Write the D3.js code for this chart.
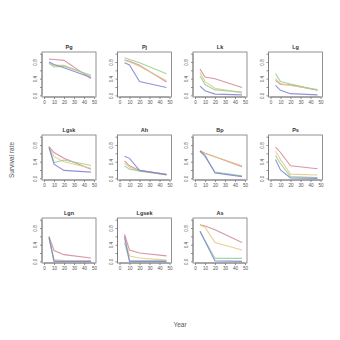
<!DOCTYPE html>
<html><head><meta charset="utf-8">
<script src="https://cdn.jsdelivr.net/npm/d3@7"></script>
<style>body{margin:0;background:#fff}svg{display:block}</style>
</head><body>
<svg id="c" width="340" height="340"></svg>
<script>
const years = [5, 10, 20, 47];
const panels = ["Pg","Pj","Lk","Lg","Lgsk","Ah","Bp","Ps","Lgn","Lgsek","As"];
const xTicks = [0, 10, 20, 30, 40, 50];
const yTicks = [0, 0.2, 0.4, 0.6, 0.8, 1.0];
const yLabels = [0, 0.4, 0.8];
// one row per panel, values at the years above
const redVals = [
  [0.87,0.86,0.84,0.40],[0.85,0.82,0.72,0.32],[0.63,0.44,0.40,0.19],[0.36,0.26,0.25,0.12],
  [0.76,0.62,0.48,0.22],[0.42,0.30,0.19,0.09],[0.66,0.60,0.52,0.28],[0.75,0.62,0.30,0.23],
  [0.60,0.26,0.16,0.08],[0.65,0.27,0.20,0.13],[0.88,0.85,0.76,0.45]];
const yellowVals = [
  [0.76,0.72,0.72,0.46],[0.84,0.80,0.70,0.35],[0.55,0.33,0.17,0.06],[0.40,0.28,0.24,0.14],
  [0.75,0.52,0.40,0.24],[0.36,0.27,0.17,0.08],[0.64,0.60,0.52,0.30],[0.65,0.45,0.10,0.08],
  [0.55,0.04,0.02,0.01],[0.55,0.13,0.08,0.03],[0.87,0.82,0.45,0.27]];
const greenVals = [
  [0.78,0.68,0.70,0.48],[0.90,0.86,0.78,0.52],[0.47,0.26,0.13,0.08],[0.52,0.33,0.27,0.13],
  [0.76,0.38,0.44,0.31],[0.30,0.22,0.18,0.10],[0.64,0.52,0.15,0.06],[0.55,0.35,0.04,0.02],
  [0.57,0.01,0.00,0.00],[0.45,0.02,0.01,0.01],[0.72,0.50,0.07,0.07]];
const blueVals = [
  [0.80,0.74,0.66,0.43],[0.78,0.73,0.33,0.19],[0.22,0.11,0.03,0.01],[0.24,0.12,0.04,0.01],
  [0.74,0.34,0.19,0.15],[0.53,0.48,0.19,0.09],[0.66,0.55,0.13,0.04],[0.45,0.20,0.01,0.00],
  [0.58,0.00,0.00,0.00],[0.60,0.00,0.00,0.00],[0.72,0.48,0.01,0.00]];
const seriesList = [redVals, yellowVals, greenVals, blueVals];
const seriesColors = ["#cf8595","#e6c585","#92cf92","#7f7fd2"];

const svg = d3.select("#c");
const font = "Liberation Sans, Arial, sans-serif";
const boxW = 54, boxH = 45, colStep = 75.5, rowStep = 83, left0 = 42, top0 = 52;

panels.forEach((name, i) => {
  const col = i % 4, row = Math.floor(i / 4);
  const L = left0 + col * colStep, T = top0 + row * rowStep;
  const x = d3.scaleLinear().domain([-2, 52]).range([L, L + boxW]);
  const y = d3.scaleLinear().domain([-0.04, 1.04]).range([T + boxH, T]);
  const g = svg.append("g");
  g.append("rect").attr("x", L).attr("y", T).attr("width", boxW).attr("height", boxH)
    .attr("fill", "none").attr("stroke", "#777").attr("stroke-width", 0.8);
  const xa = g.append("g").attr("transform", `translate(0,${T + boxH})`)
    .call(d3.axisBottom(x).tickValues(xTicks).tickSize(2).tickPadding(1.5).tickFormat(d3.format("d")));
  xa.select(".domain").attr("stroke", "#777").attr("stroke-width", 0.8)
    .attr("d", `M${x(0)},0H${x(50)}`);
  xa.selectAll(".tick line").attr("stroke", "#777").attr("stroke-width", 0.8);
  xa.selectAll("text").attr("font-size", 4.6).attr("font-family", font).attr("fill", "#555");
  const ya = g.append("g").attr("transform", `translate(${L},0)`)
    .call(d3.axisLeft(y).tickValues(yTicks).tickSize(2).tickFormat(d => yLabels.some(v => Math.abs(v - d) < 1e-9) ? d3.format(".1f")(d) : ""));
  ya.select(".domain").attr("stroke", "#777").attr("stroke-width", 0.8)
    .attr("d", `M0,${y(0)}V${y(1)}`);
  ya.selectAll(".tick line").attr("stroke", "#777").attr("stroke-width", 0.8);
  ya.selectAll("text").attr("font-size", 4.6).attr("font-family", font).attr("fill", "#555")
    .attr("text-anchor", "middle").attr("x", 0).attr("dy", 0)
    .attr("transform", "translate(-5,0) rotate(-90)");
  g.append("text").attr("x", L + boxW / 2).attr("y", T - 3.5).attr("text-anchor", "middle")
    .attr("font-family", font).attr("font-weight", "bold").attr("font-size", 5.5).attr("fill", "#333")
    .text(name);
  const line = d3.line().x((d, k) => x(years[k])).y(d => y(d));
  seriesList.forEach((s, k) => {
    g.append("path").attr("d", line(s[i])).attr("fill", "none")
      .attr("stroke", seriesColors[k]).attr("stroke-width", 1.1).attr("stroke-opacity", 0.85);
  });
});

svg.append("text").attr("transform", "translate(14,160) rotate(-90)").attr("text-anchor", "middle")
  .attr("font-family", font).attr("font-size", 6.5).attr("fill", "#555").text("Survival rate");
svg.append("text").attr("x", 180).attr("y", 327).attr("text-anchor", "middle")
  .attr("font-family", font).attr("font-size", 6.5).attr("fill", "#555").text("Year");
</script>
</body></html>
